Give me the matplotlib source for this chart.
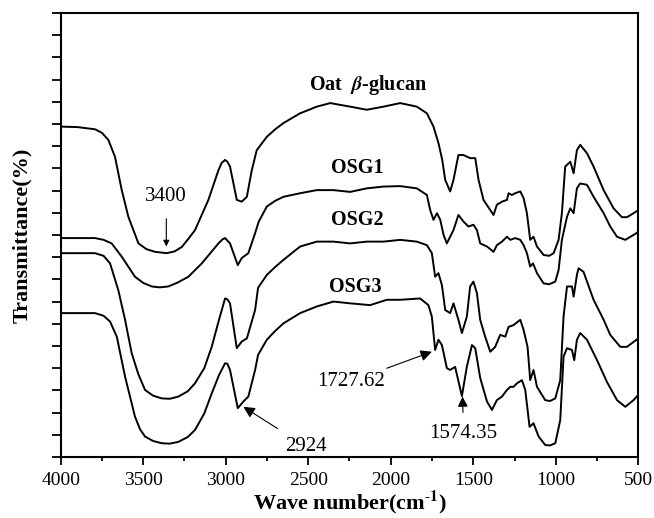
import numpy as np
import matplotlib
matplotlib.use("Agg")
import matplotlib.pyplot as plt
from matplotlib.ticker import MultipleLocator

plt.rcParams['font.family'] = 'serif'
plt.rcParams['font.serif'] = ['Liberation Serif', 'DejaVu Serif']
plt.rcParams['mathtext.fontset'] = 'stix'

# FTIR spectra (wavenumber cm-1, transmittance in axis %)
wn_oat = [4000, 3900, 3792, 3750, 3711, 3671, 3630, 3590, 3529, 3480, 3428, 3357,
          3310, 3266, 3225, 3186, 3105, 3044, 3025, 3004, 2990, 2974, 2933, 2903,
          2872, 2842, 2812, 2751, 2700, 2650, 2600, 2549, 2448, 2367, 2246, 2145,
          2044, 1943, 1842, 1781, 1741, 1711, 1688, 1670, 1640, 1620, 1590, 1559,
          1519, 1488, 1468, 1438, 1397, 1377, 1357, 1326, 1296, 1286, 1266, 1246,
          1215, 1195, 1175, 1155, 1135, 1114, 1074, 1040, 1013, 983, 963, 943, 912,
          892, 872, 852, 811, 771, 710, 650, 599, 569, 529, 500]
t_oat = [74.4, 74.3, 73.8, 73.0, 71.4, 67.6, 60.1, 54.1, 48.1, 46.8, 46.2, 45.9,
         46.3, 47.3, 49.2, 51.1, 57.9, 64.6, 66.2, 66.9, 66.5, 65.4, 57.9, 57.5,
         58.6, 64.6, 69.1, 72.1, 73.8, 75.2, 76.3, 77.4, 78.9, 79.7, 78.9, 78.2,
         78.9, 79.7, 78.9, 77.4, 74.4, 70.7, 66.9, 62.4, 59.8, 62.4, 68.0, 68.0,
         67.3, 67.3, 62.4, 57.9, 55.6, 54.5, 56.8, 57.5, 57.9, 59.4, 59.0, 59.4,
         59.8, 58.3, 54.9, 48.9, 49.6, 47.4, 45.5, 45.3, 45.9, 48.9, 54.9, 65.4, 66.5,
         63.9, 69.1, 70.3, 68.4, 65.4, 60.1, 56.0, 54.0, 54.0, 54.9, 55.6]

wn_osg1 = [4000, 3900, 3792, 3740, 3691, 3630, 3550, 3500, 3448, 3400, 3348, 3290,
           3226, 3145, 3044, 3020, 3004, 2974, 2927, 2903, 2863, 2822, 2800, 2751,
           2700, 2650, 2549, 2448, 2347, 2246, 2145, 2044, 1943, 1842, 1781, 1761,
           1741, 1720, 1700, 1680, 1660, 1620, 1590, 1559, 1529, 1499, 1478, 1458,
           1417, 1377, 1357, 1326, 1296, 1276, 1246, 1215, 1195, 1175, 1155, 1138,
           1114, 1074, 1040, 1003, 983, 963, 932, 912, 892, 872, 852, 811, 771, 710,
           670, 629, 579, 529, 500]
t_osg1 = [49.3, 49.3, 49.3, 48.9, 48.1, 45.1, 40.6, 39.2, 38.4, 38.2, 38.4, 39.3,
          40.6, 43.6, 48.1, 49.0, 49.3, 48.1, 43.2, 44.8, 45.9, 50.4, 53.0, 56.4,
          57.7, 58.6, 59.4, 60.1, 60.1, 59.7, 60.5, 60.9, 61.0, 60.5, 59.0, 55.6,
          53.4, 54.9, 53.4, 50.0, 48.1, 51.1, 54.5, 53.0, 51.9, 52.3, 51.1, 48.1,
          47.4, 46.2, 47.7, 48.5, 49.6, 48.9, 49.3, 48.9, 47.7, 45.9, 42.9, 43.6,
          41.4, 39.1, 38.9, 39.5, 42.1, 48.9, 54.1, 56.0, 54.9, 60.5, 61.6, 61.3, 58.6, 54.9,
          51.9, 49.6, 48.9, 50.0, 50.7]

wn_osg2 = [4000, 3900, 3792, 3740, 3701, 3651, 3610, 3570, 3530, 3489, 3440, 3388,
           3340, 3287, 3230, 3186, 3130, 3085, 3040, 3004, 2990, 2974, 2933, 2903,
           2872, 2822, 2804, 2751, 2700, 2650, 2549, 2448, 2347, 2246, 2145, 2044,
           1943, 1842, 1781, 1751, 1731, 1711, 1690, 1670, 1640, 1620, 1590, 1569,
           1539, 1519, 1499, 1478, 1458, 1428, 1397, 1367, 1337, 1306, 1286, 1256,
           1215, 1195, 1171, 1155, 1135, 1114, 1064, 1035, 1003, 973, 953, 932, 902,
           892, 872, 862, 832, 771, 710, 670, 609, 569, 500]
t_osg2 = [45.9, 45.9, 45.9, 45.3, 43.6, 37.6, 30.9, 23.4, 18.7, 15.1, 13.8, 13.2,
          13.1, 13.6, 14.8, 16.6, 20.0, 24.8, 31.0, 35.7, 35.5, 34.6, 24.5, 26.0,
          26.7, 33.1, 38.1, 41.0, 42.8, 44.4, 47.4, 48.5, 48.5, 48.1, 48.5, 48.5,
          48.9, 48.5, 47.7, 45.9, 40.6, 41.4, 38.7, 33.1, 32.4, 34.6, 30.9, 27.9,
          31.6, 38.4, 39.5, 36.9, 30.9, 27.1, 23.7, 24.8, 27.5, 27.1, 29.3, 29.7,
          30.9, 28.6, 24.8, 17.3, 19.6, 15.8, 12.8, 12.6, 13.2, 17.3, 31.6, 38.4, 38.4,
          36.1, 41.0, 42.5, 41.7, 35.4, 30.9, 27.5, 24.8, 24.8, 26.7]

wn_osg3 = [4000, 3900, 3792, 3740, 3701, 3660, 3610, 3550, 3520, 3489, 3440, 3388,
           3340, 3287, 3230, 3186, 3130, 3085, 3040, 3004, 2990, 2974, 2927, 2893,
           2863, 2822, 2804, 2751, 2700, 2650, 2549, 2448, 2347, 2246, 2125, 2024,
           1943, 1822, 1772, 1751, 1731, 1711, 1690, 1660, 1640, 1610, 1569, 1539,
           1508, 1488, 1458, 1417, 1387, 1357, 1326, 1296, 1276, 1256, 1235, 1205,
           1185, 1159, 1135, 1104, 1064, 1035, 1003, 973, 953, 932, 902, 888, 872,
           852, 811, 750, 690, 629, 579, 529, 500]
t_osg3 = [32.4, 32.4, 32.4, 31.8, 30.5, 27.1, 18.1, 9.1, 6.3, 4.6, 3.6, 3.1,
          3.0, 3.4, 4.5, 6.1, 9.8, 14.3, 18.5, 21.1, 21.0, 19.6, 11.0, 12.5,
          13.6, 19.6, 23.0, 26.4, 28.4, 30.1, 32.4, 33.9, 35.0, 34.6, 34.2, 35.4,
          35.4, 35.7, 34.2, 31.6, 24.1, 26.4, 25.2, 20.0, 19.6, 20.3, 13.7, 20.3,
          25.2, 24.5, 17.8, 12.5, 10.6, 12.8, 13.6, 15.1, 15.8, 15.8, 16.6, 17.3,
          15.1, 6.8, 7.6, 4.6, 2.7, 2.6, 3.1, 8.3, 22.6, 24.5, 24.1, 21.8, 26.4,
          27.9, 26.4, 21.8, 16.9, 12.8, 11.3, 12.8, 14.0]

fig = plt.figure(figsize=(6.54, 5.18), dpi=100)
ax = fig.add_axes([0.0928, 0.1178, 0.8832, 0.8572])

for wn, t in [(wn_oat, t_oat), (wn_osg1, t_osg1), (wn_osg2, t_osg2), (wn_osg3, t_osg3)]:
    ax.plot(wn, t, color='black', lw=1.4, solid_joinstyle='round')

ax.set_xlim(4000, 500)
ax.set_ylim(0, 100)
ax.xaxis.set_major_locator(MultipleLocator(500))
ax.xaxis.set_minor_locator(MultipleLocator(250))
ax.yaxis.set_major_locator(MultipleLocator(5))
ax.set_yticklabels([])
ax.tick_params(axis='x', which='major', direction='out', length=6, width=1.3,
               labelsize=14, pad=5, top=False)
ax.tick_params(axis='x', which='minor', direction='out', length=3, width=1.3, top=False)
ax.tick_params(axis='y', which='major', direction='out', length=6.5, width=1.3, right=False)
for s in ax.spines.values():
    s.set_linewidth(1.5)

ax.set_xlabel(r'Wave number(cm$^{\mathbf{\text{-}1}}$)', fontsize=16, fontweight='bold',
              labelpad=0)
ax.set_ylabel('Transmittance(%)', fontsize=16, fontweight='bold')
ax.yaxis.set_label_coords(-0.05, 0.5)

# curve labels
ax.text(2137, 83.8, r'Oat  $\mathbfit{\beta}$-glucan', fontsize=14.5, fontweight='bold',
        ha='center', va='center')
ax.text(2203, 65.1, 'OSG1', fontsize=14.5, fontweight='bold', ha='center', va='center')
ax.text(2203, 53.4, 'OSG2', fontsize=14.5, fontweight='bold', ha='center', va='center')
ax.text(2215, 38.3, 'OSG3', fontsize=14.5, fontweight='bold', ha='center', va='center')

# peak annotations
ax.annotate('3400', xy=(3360, 47.4), xytext=(3360, 58.6), fontsize=15,
            ha='center', va='center',
            arrowprops=dict(arrowstyle='-|>', color='black', lw=0.8,
                            mutation_scale=9, shrinkA=7, shrinkB=0))
ax.annotate('2924', xy=(2893, 11.3), xytext=(2513, 2.3), fontsize=15,
            ha='center', va='center',
            arrowprops=dict(arrowstyle='-|>', color='black', lw=0.8,
                            mutation_scale=17, shrinkA=8, shrinkB=0))
ax.annotate('1727.62', xy=(1751, 23.7), xytext=(2243, 17.0), fontsize=15,
            ha='center', va='center',
            arrowprops=dict(arrowstyle='-|>', color='black', lw=0.8,
                            mutation_scale=17, shrinkA=2, shrinkB=0))
ax.annotate('1574.35', xy=(1565, 13.6), xytext=(1559, 5.4), fontsize=15,
            ha='center', va='center',
            arrowprops=dict(arrowstyle='-|>', color='black', lw=0.8,
                            mutation_scale=15, shrinkA=6, shrinkB=0))

fig.savefig('out.png', dpi=100)
